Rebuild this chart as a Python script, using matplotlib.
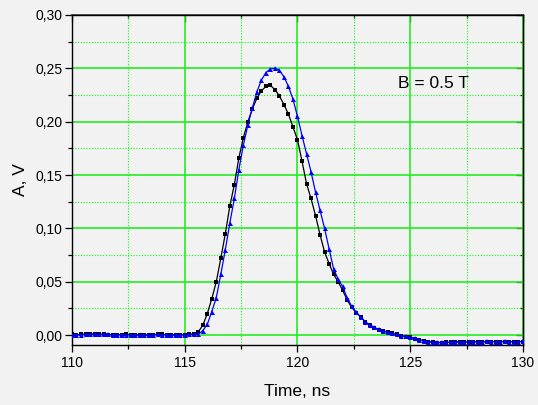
import numpy as np
import matplotlib
matplotlib.use("Agg")
import matplotlib.pyplot as plt
from matplotlib.ticker import MultipleLocator, FuncFormatter

plt.rcParams['font.family'] = ['Liberation Sans', 'DejaVu Sans']

# Sampling times of the oscilloscope traces, ns (0.2 ns step)
time_ns = np.round(np.arange(110.0, 130.0001, 0.2), 1)

baseline_black = [0.0005, 0.0003, 0.0006, 0.0008, 0.0010, 0.0009, 0.0007, 0.0006,
                  0.0004, 0.0002, 0.0003, 0.0004, 0.0005, 0.0003, 0.0002, 0.0000,
                  -0.0002, 0.0001, 0.0004, 0.0006, 0.0005, 0.0003, 0.0001, 0.0000,
                  0.0002, 0.0004, 0.0006, 0.0010]
pulse_black = [0.003, 0.009, 0.020, 0.034, 0.050, 0.072, 0.095, 0.121, 0.141, 0.166,
               0.185, 0.200, 0.212, 0.222, 0.229, 0.233, 0.234, 0.230, 0.224, 0.216,
               0.207, 0.195, 0.183, 0.163, 0.142, 0.128, 0.112, 0.094, 0.078, 0.067,
               0.057, 0.050, 0.042, 0.033, 0.026, 0.021, 0.017, 0.0125, 0.0090, 0.0068,
               0.0050, 0.0038, 0.0028, 0.0016, 0.0006, -0.0006, -0.0014]
tail_black = [-0.0022, -0.0034, -0.0046, -0.0055, -0.0062, -0.0068, -0.0071, -0.0072,
              -0.0070, -0.0068, -0.0066, -0.0065, -0.0066, -0.0064, -0.0063, -0.0065,
              -0.0064, -0.0063, -0.0062, -0.0064, -0.0063, -0.0062, -0.0063, -0.0064,
              -0.0063, -0.0062]

baseline_blue = [0.0002, 0.0004, 0.0003, 0.0007, 0.0009, 0.0008, 0.0006, 0.0008,
                 0.0005, 0.0003, 0.0002, 0.0004, 0.0003, 0.0001, 0.0003, 0.0001,
                 0.0000, 0.0002, 0.0003, 0.0005, 0.0004, 0.0002, 0.0002, 0.0001,
                 0.0003, 0.0003, 0.0005, 0.0006]
pulse_blue = [0.0008, 0.004, 0.010, 0.022, 0.035, 0.057, 0.080, 0.105, 0.128, 0.155,
              0.178, 0.197, 0.213, 0.228, 0.239, 0.246, 0.2495, 0.2500, 0.2480, 0.2420,
              0.2330, 0.2210, 0.2050, 0.1870, 0.1700, 0.1530, 0.1340, 0.1170, 0.1000, 0.0810,
              0.0620, 0.0525, 0.0455, 0.0350, 0.0270, 0.0215, 0.0170, 0.0125, 0.0095, 0.0074,
              0.0052, 0.0037, 0.0026, 0.0016, 0.0006, -0.0005, -0.0013]
tail_blue = [-0.0021, -0.0032, -0.0045, -0.0054, -0.0061, -0.0066, -0.0069, -0.0070,
             -0.0068, -0.0067, -0.0064, -0.0063, -0.0064, -0.0062, -0.0061, -0.0063,
             -0.0062, -0.0060, -0.0061, -0.0062, -0.0061, -0.0060, -0.0061, -0.0062,
             -0.0061, -0.0060]

amp_black = np.array(baseline_black + pulse_black + tail_black)
amp_blue = np.array(baseline_blue + pulse_blue + tail_blue)

x_ticks = [110, 115, 120, 125, 130]
y_ticks = [0.00, 0.05, 0.10, 0.15, 0.20, 0.25, 0.30]
annotation = "B = 0.5 T"

bg = '#f2f2f2'
fig = plt.figure(figsize=(5.38, 4.05), dpi=100, facecolor=bg)
ax = fig.add_axes([0.1338, 0.148, 0.8383, 0.815])
ax.set_facecolor(bg)

ax.set_xlim(110, 130)
ax.set_ylim(-0.0094, 0.30)

ax.set_xticks(x_ticks)
ax.set_yticks(y_ticks)
ax.xaxis.set_minor_locator(MultipleLocator(2.5))
ax.yaxis.set_minor_locator(MultipleLocator(0.025))
ax.yaxis.set_major_formatter(FuncFormatter(lambda v, p: f"{v:.2f}".replace('.', ',')))

# grid: solid major, dotted minor
ax.grid(which='major', color='#22ee22', linewidth=1.2, linestyle='-', zorder=0)
ax.grid(which='minor', color='#00ff00', linewidth=0.8, linestyle=(0, (1, 1.5)), zorder=0)
ax.set_axisbelow(True)

ax.tick_params(which='both', direction='out', top=False, right=False,
               labelsize=10, colors='black', width=0.9)
ax.tick_params(which='major', length=5)
ax.tick_params(which='minor', length=3)
ax.tick_params(axis='y', pad=2)
ax.tick_params(axis='x', pad=3)

# inward ticks on the top and right edges
axt = ax.secondary_xaxis('top')
axt.set_xticks(x_ticks)
axt.xaxis.set_minor_locator(MultipleLocator(2.5))
axt.tick_params(which='both', direction='in', labeltop=False, width=0.9)
axt.tick_params(which='major', length=5)
axt.tick_params(which='minor', length=2.5)
axr = ax.secondary_yaxis('right')
axr.set_yticks(y_ticks)
axr.yaxis.set_minor_locator(MultipleLocator(0.025))
axr.tick_params(which='both', direction='in', labelright=False, width=0.9)
axr.tick_params(which='major', length=5)
axr.tick_params(which='minor', length=2.5)
for sp in ax.spines.values():
    sp.set_linewidth(1.0)
    sp.set_color('black')
axt.spines['top'].set_color('#444444')
axt.spines['top'].set_linewidth(1.2)
axr.spines['right'].set_linewidth(1.0)

ax.plot(time_ns, amp_black, color='black', linewidth=0.9, marker='s',
        markersize=2.8, markeredgewidth=0, zorder=3)
ax.plot(time_ns, amp_blue, color='#0000ff', linewidth=0.9, marker='^',
        markersize=3.6, markeredgewidth=0, zorder=4)

ax.set_xlabel("Time, ns", fontsize=12.5, labelpad=10)
ax.set_ylabel("A, V", fontsize=12.5, labelpad=5)

ax.text(124.46, 0.236, annotation, fontsize=12.5, ha='left', va='center')

fig.savefig("out.png", dpi=100, facecolor=bg)
